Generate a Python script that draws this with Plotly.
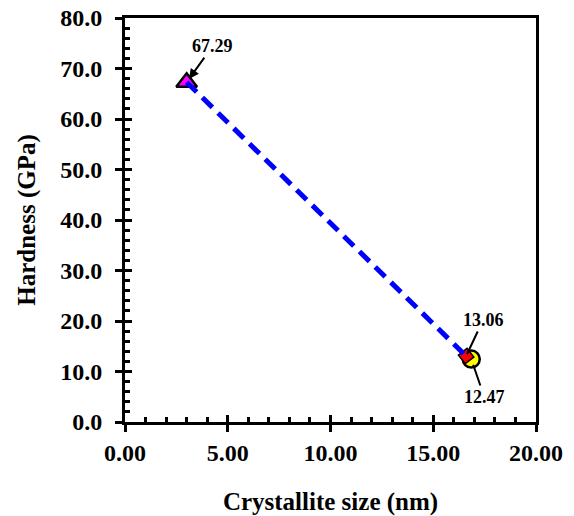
import plotly.graph_objects as go

# Data
size_nm = [3.0, 16.6]
hardness = [67.29, 13.06]
circle_x = [16.85]
circle_y = [12.47]
labels = ["67.29", "13.06", "12.47"]

FONT = "Liberation Serif"

fig = go.Figure()

fig.add_trace(go.Scatter(x=[size_nm[0]], y=[hardness[0]], mode="markers",
                         marker=dict(symbol="triangle-up", size=18, color="#ff00ff",
                                     line=dict(color="black", width=2.5)),
                         showlegend=False, hoverinfo="skip"))
fig.add_trace(go.Scatter(x=circle_x, y=circle_y, mode="markers",
                         marker=dict(symbol="circle", size=17, color="#ffff00",
                                     line=dict(color="black", width=2.5)),
                         showlegend=False, hoverinfo="skip"))
fig.add_trace(go.Scatter(x=[size_nm[1]], y=[hardness[1]], mode="markers",
                         marker=dict(symbol="square", size=11, color="#ff0000", angle=52,
                                     line=dict(color="black", width=1.5)),
                         showlegend=False, hoverinfo="skip"))
fig.add_trace(go.Scatter(x=size_nm, y=hardness, mode="lines",
                         line=dict(color="#0000ff", width=5, dash="14px,8px"),
                         showlegend=False, hoverinfo="skip"))
fig.add_trace(go.Scatter(x=[None], y=[None], xaxis="x2", yaxis="y2",
                         showlegend=False, hoverinfo="skip"))

tickfont = dict(family=FONT, size=24, color="black", weight="bold")
titlefont = dict(family=FONT, size=25, color="black", weight="bold")

fig.update_layout(
    width=574, height=516,
    margin=dict(l=125, r=38, t=18, b=94, autoexpand=False),
    plot_bgcolor="white", paper_bgcolor="white",
    xaxis=dict(range=[0, 20], dtick=5, tickformat=".2f",
               showgrid=False, zeroline=False,
               showline=True, linecolor="black", linewidth=3, mirror=True,
               ticks="outside", ticklen=7, tickwidth=3, tickcolor="black",
               tickfont=tickfont, automargin=False,
               title=dict(text="Crystallite size (nm)", font=titlefont, standoff=28)),
    yaxis=dict(range=[0, 80], dtick=10, tickformat=".1f",
               showgrid=False, zeroline=False,
               showline=True, linecolor="black", linewidth=3, mirror=True,
               ticks="outside", ticklen=7, tickwidth=3, tickcolor="black",
               tickfont=tickfont, automargin=False, ticklabelstandoff=8,
               title=dict(text="Hardness (GPa)", font=titlefont, standoff=18)),
    xaxis2=dict(range=[0, 20], overlaying="x", anchor="y", side="bottom",
                dtick=5, showgrid=False, zeroline=False, showticklabels=False,
                showline=False, ticks="inside", ticklen=7, tickwidth=3, tickcolor="black",
                minor=dict(dtick=1, ticks="inside", ticklen=5, tickwidth=3,
                           tickcolor="black", showgrid=False)),
    yaxis2=dict(range=[0, 80], overlaying="y", anchor="x", side="left",
                dtick=10, showgrid=False, zeroline=False, showticklabels=False,
                showline=False, ticks="inside", ticklen=7, tickwidth=3, tickcolor="black",
                minor=dict(dtick=2, ticks="inside", ticklen=5, tickwidth=3,
                           tickcolor="black", showgrid=False)),
)

annfont = dict(family=FONT, size=18, color="black", weight="bold")
fig.add_annotation(x=size_nm[0], y=hardness[0], text=labels[0], font=annfont,
                   showarrow=True, arrowhead=2, arrowsize=1, arrowwidth=2, arrowcolor="black",
                   ax=26, ay=-36, standoff=4)
fig.add_annotation(x=size_nm[1], y=hardness[1], text=labels[1], font=annfont,
                   showarrow=True, arrowhead=0, arrowwidth=2, arrowcolor="black",
                   ax=17, ay=-36, standoff=2)
fig.add_annotation(x=circle_x[0], y=circle_y[0], text=labels[2], font=annfont,
                   showarrow=True, arrowhead=0, arrowwidth=2, arrowcolor="black",
                   ax=13, ay=38, standoff=6)

fig.write_html("out.html", config={"displayModeBar": False},
               post_script="document.body.style.margin='0';document.body.style.overflow='hidden';")
